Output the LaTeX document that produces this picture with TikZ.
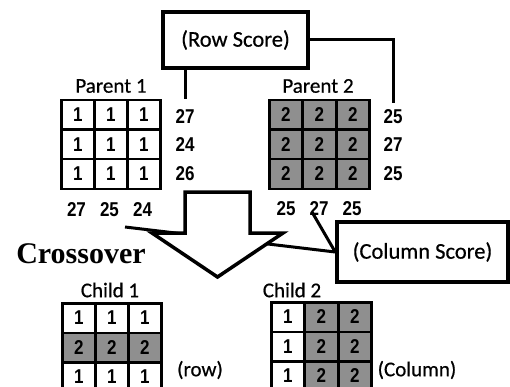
\documentclass[tikz,border=0pt]{standalone}
\usepackage{fontspec}
\setmainfont[FakeBold=0.6]{Carlito}
\newfontfamily\numfont[FakeStretch=0.85]{Liberation Sans}
\newfontfamily\serifbf{Liberation Serif}
\definecolor{cellgray}{gray}{0.56}
\begin{document}
\begin{tikzpicture}[x=1pt,y=-1pt,
  cell/.style={draw, line width=2.5pt, minimum width=33pt, minimum height=29.5pt,
    inner sep=0pt, anchor=north west, font=\numfont\bfseries\fontsize{20}{20}\selectfont},
  gcell/.style={cell, fill=cellgray},
  score/.style={inner sep=1pt, font=\numfont\bfseries\fontsize{20}{20}\selectfont},
  lab/.style={inner sep=0pt, font=\fontsize{21}{21}\selectfont},
  box/.style={draw, line width=3.5pt, inner sep=0pt, font=\fontsize{22.5}{22.5}\selectfont},
  conn/.style={line width=3pt},
  bigarrow/.style={draw, fill=white, line width=3.5pt, line join=miter}]
\useasboundingbox (0,0) rectangle (510,387);

% Parent 1
\node[lab] (par1) at (111,86) {Parent 1};
\foreach \r in {1,2,3}
  \foreach \c in {1,2,3}
    \node[cell] (p1-\r-\c) at ({60+(\c-1)*33},{99+(\r-1)*29.5}) {1};
\node[score] (p1r1) at (185,117) {27};
\node[score] (p1r2) at (185,145) {24};
\node[score] (p1r3) at (185,174) {26};
\node[score] (p1c1) at (76.5,210) {27};
\node[score] (p1c2) at (109.5,210) {25};
\node[score] (p1c3) at (142.5,210) {24};

% Parent 2
\node[lab] (par2) at (318,86) {Parent 2};
\foreach \r in {1,2,3}
  \foreach \c in {1,2,3}
    \node[gcell] (p2-\r-\c) at ({268+(\c-1)*33.5},{99+(\r-1)*29.5}) {2};
\node[score] (p2r1) at (393,117) {25};
\node[score] (p2r2) at (393,145) {27};
\node[score] (p2r3) at (393,174) {25};
\node[score] (p2c1) at (286,209) {25};
\node[score] (p2c2) at (319,209) {27};
\node[score] (p2c3) at (352,209) {25};

% Row score box and connectors
\node[box, minimum width=145pt, minimum height=56pt] (rs) at (235.5,40) {(Row Score)};
\coordinate (rsA) at (185,99);
\coordinate (rsB) at (393,103);
\draw[conn] (rs.south -| rsA) -- (rsA);
\draw[conn] (rs.east) -| (rsB);

% Column score box and connectors
\node[box, minimum width=171pt, minimum height=60pt] (cs) at (422.5,252) {(Column Score)};
\coordinate (csA) at (312,212);
\coordinate (csB) at (125,227);
\draw[conn] (cs.west) -- (csA);
\draw[conn] (cs.west) -- (csB);

% Crossover arrow
\draw[bigarrow] (185,192) -- (250,192) -- (250,233) -- (283,233) -- (217.5,277)
  -- (152,233) -- (185,233) -- cycle;
\node[inner sep=0pt, font=\serifbf\bfseries\fontsize{30}{30}\selectfont] (cross) at (81,254) {Crossover};

% Child 1
\node[lab] (ch1) at (110,290) {Child 1};
\foreach \r/\v/\s in {1/1/cell,2/2/gcell,3/1/cell}
  \foreach \c in {1,2,3}
    \node[\s] (c1-\r-\c) at ({61+(\c-1)*33},{302+(\r-1)*29.5}) {\v};
\node[lab] (row) at (200,370) {(row)};

% Child 2
\node[lab] (ch2) at (292,290) {Child 2};
\foreach \c/\v/\s in {1/1/cell,2/2/gcell,3/2/gcell}
  \foreach \r in {1,2,3}
    \node[\s] (c2-\r-\c) at ({270+(\c-1)*33.5},{301+(\r-1)*29.5}) {\v};
\node[lab] (col) at (417,370) {(Column)};
\end{tikzpicture}
\end{document}
